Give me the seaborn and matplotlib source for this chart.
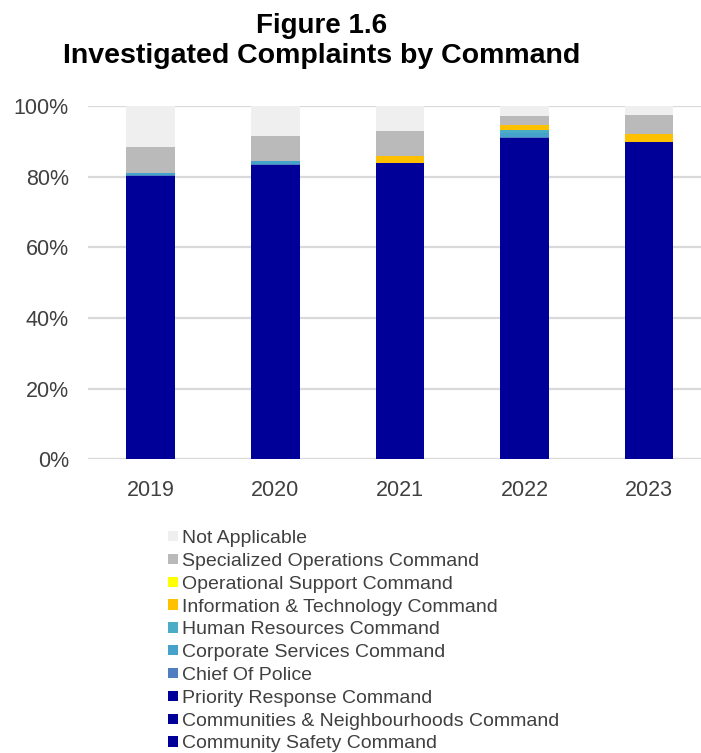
#importing necessary libraries
import pandas as pd
import matplotlib.pyplot as plt
from matplotlib.patches import Patch
from matplotlib.ticker import PercentFormatter
import seaborn as sb

sb.set_style("white")
plt.rcParams['font.family'] = ['Liberation Sans', 'DejaVu Sans']

#data (percent of investigated complaints, stacked bottom -> top)
years = ['2019', '2020', '2021', '2022', '2023']
commands = ['Community Safety Command', 'Communities & Neighbourhoods Command',
            'Priority Response Command', 'Chief Of Police', 'Corporate Services Command',
            'Human Resources Command', 'Information & Technology Command',
            'Operational Support Command', 'Specialized Operations Command', 'Not Applicable']
community_safety = [34.0, 35.0, 36.0, 40.0, 38.0]
communities_neighbourhoods = [27.0, 28.0, 28.0, 31.0, 31.0]
priority_response = [19.3, 20.4, 19.9, 20.0, 20.7]
chief_of_police = [0.3, 0.3, 0.0, 0.3, 0.0]
corporate_services = [0.5, 0.6, 0.0, 1.0, 0.0]
human_resources = [0.0, 0.0, 0.0, 1.0, 0.0]
info_technology = [0.0, 0.0, 1.9, 1.2, 2.5]
operational_support = [0.0, 0.0, 0.0, 0.0, 0.0]
specialized_ops = [7.3, 7.2, 7.0, 2.6, 5.4]
not_applicable = [11.6, 8.5, 7.2, 2.9, 2.4]
colours = ['#000099', '#000099', '#000099', '#4F7FC0', '#45A3CB',
           '#4BACC6', '#FFC000', '#FFFF00', '#BABABA', '#EFEFEF']

df = pd.DataFrame([community_safety, communities_neighbourhoods, priority_response,
                   chief_of_police, corporate_services, human_resources, info_technology,
                   operational_support, specialized_ops, not_applicable],
                  index=commands, columns=years).T / 100
cum = df.cumsum(axis=1)

fig = plt.figure(figsize=(7.01, 7.53), dpi=100)
ax = fig.add_axes([0.1261, 0.3900, 0.8739, 0.4692])

#stacked bars: draw cumulative totals from the top layer down
for cmd, col in reversed(list(zip(commands, colours))):
    sb.barplot(x=years, y=cum[cmd].values, color=col, width=0.39, linewidth=0,
               saturation=1, ax=ax, zorder=3)

ax.set_xlim(-0.5, 4.417)
ax.set_ylim(0, 1)
ax.set_yticks([0, 0.2, 0.4, 0.6, 0.8, 1.0])
ax.yaxis.set_major_formatter(PercentFormatter(1.0, decimals=0))
ax.grid(axis='y', color='#D9D9D9', linewidth=1.6, zorder=0)
ax.set_axisbelow(True)
for s in ax.spines.values():
    s.set_visible(False)
ax.tick_params(axis='both', length=0, labelsize=15.5, colors='#404040')
ax.tick_params(axis='y', pad=14)
ax.tick_params(axis='x', pad=15)
ax.set_xlabel('')
ax.set_ylabel('')

#title
fig.text(0.459, 1 - 33 / 753, 'Figure 1.6', ha='center', va='baseline',
         fontsize=20, fontweight='bold', color='black')
fig.text(0.459, 1 - 63 / 753, 'Investigated Complaints by Command', ha='center',
         va='baseline', fontsize=20.5, fontweight='bold', color='black')

#legend, top entry = top of stack
handles = [Patch(facecolor=c, edgecolor='none', label=l) for l, c in zip(commands, colours)]
fig.legend(handles=handles[::-1], loc='upper left', bbox_to_anchor=(0.2397, 1 - 530 / 753),
           frameon=False, fontsize=14, borderpad=0, borderaxespad=0,
           handlelength=0.5, handleheight=0.45, handletextpad=0.2, labelspacing=0.3,
           labelcolor='#404040')

plt.savefig('out.png', dpi=100)
